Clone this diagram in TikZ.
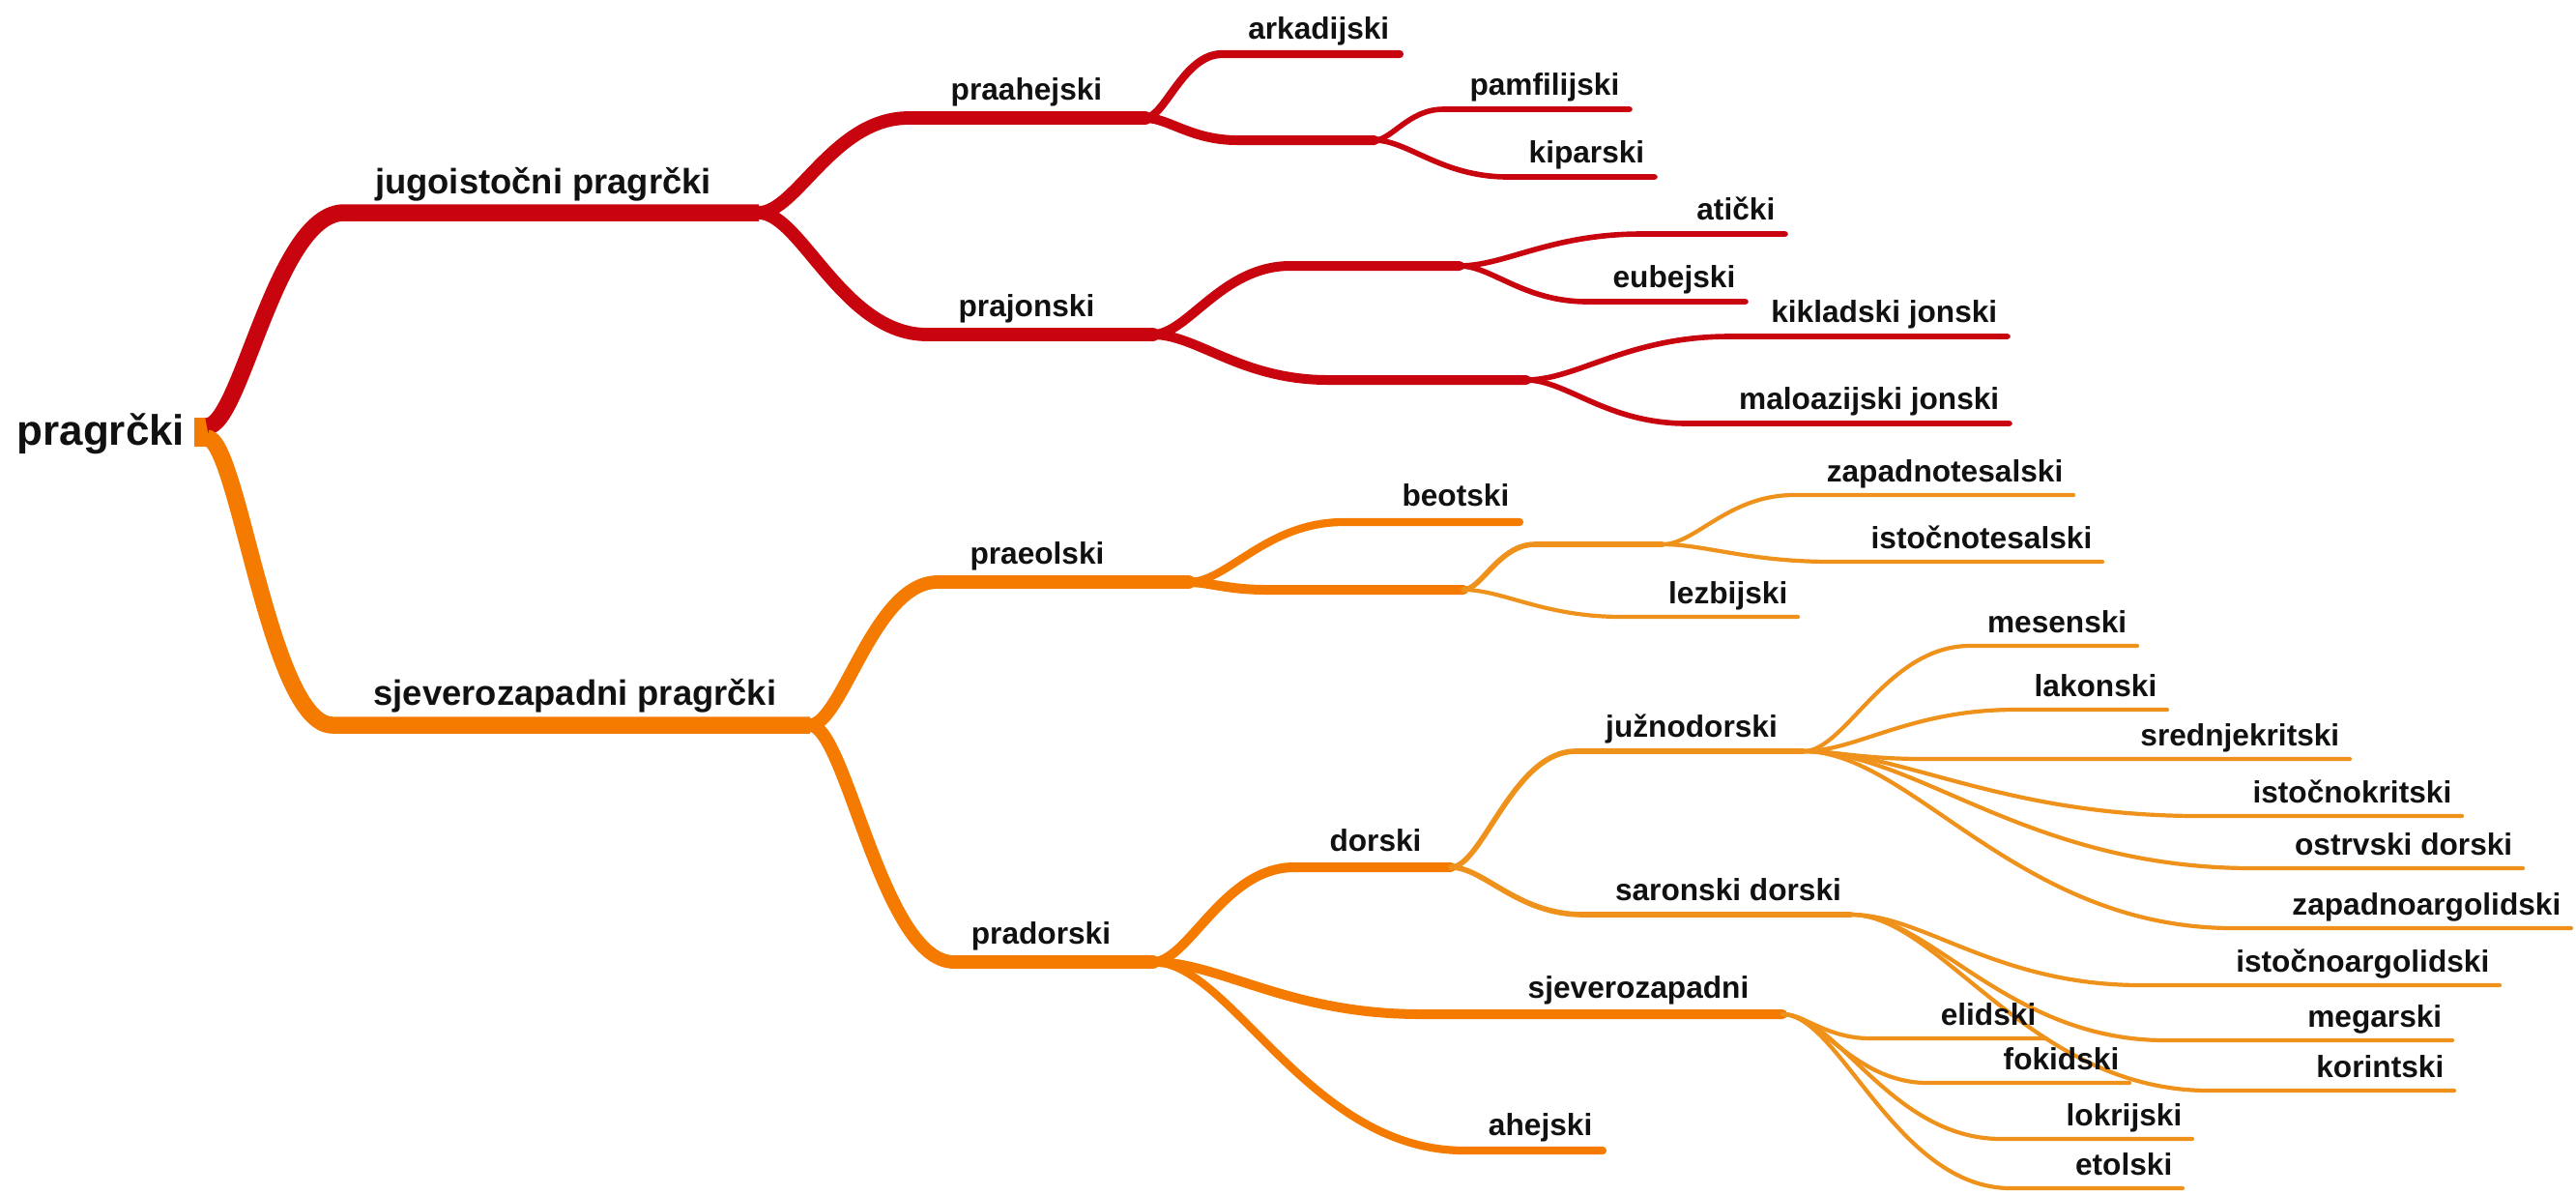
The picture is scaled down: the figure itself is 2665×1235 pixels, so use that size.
\documentclass[tikz,border=0pt]{standalone}
\usepackage{fontspec}
\setmainfont{Liberation Sans}
\definecolor{ink}{HTML}{111111}
\definecolor{southred}{HTML}{C8050E}
\definecolor{northorange}{HTML}{F47B00}
\definecolor{northgold}{HTML}{EE921C}
\usetikzlibrary{calc}
\tikzset{
  every picture/.style={line cap=round, line join=round},
  lbl/.style={font=\bfseries\fontsize{9}{11}\selectfont, text=ink, inner sep=0pt},
  leaf/.style={lbl, anchor=base east},
  topic/.style={lbl, anchor=base},
  topicI/.style={topic, font=\bfseries\fontsize{10.35}{12.5}\selectfont},
  central/.style={lbl, anchor=base west, font=\bfseries\fontsize{12.5}{15}\selectfont},
  brR/.style={draw=southred},
  brO/.style={draw=northorange},
  brG/.style={draw=northgold},
  w1/.style={line width=1.75mm},
  w2/.style={line width=1.38mm},
  w3/.style={line width=1.0mm},
  w3l/.style={line width=0.82mm},
  w4/.style={line width=0.56mm},
  w5/.style={line width=0.42mm},
  % horizontal S-curve from a fork to the start of a child's underline
  branch/.style={to path={let \p1=(\tikztostart), \p2=(\tikztotarget) in
    .. controls ({0.75*\x1+0.25*\x2},\y1) and ({0.5*\x1+0.5*\x2},\y2) .. (\tikztotarget)}}
}
\begin{document}
\begin{tikzpicture}[x=0.01cm, y=-0.01cm]
  \useasboundingbox (0,0) rectangle (2665,1235);

  % Central topic
  \node[central] (root) at (17,460) {pragrčki};
  \coordinate (root-r) at (214,441);
  \coordinate (root-o) at (214,453);
  \fill[northorange] (201,432) rectangle (222,462);

  % ---------------- South-east branch (red) ----------------
  \coordinate (jug-s) at (356,220);   \coordinate (jug-e) at (785,220);
  \coordinate (prah-s) at (940,122);  \coordinate (prah-e) at (1185,122);
  \coordinate (ark-s) at (1264,56);   \coordinate (ark-e) at (1448,56);
  \coordinate (pk-s) at (1280,145);   \coordinate (pk-e) at (1422,145);
  \coordinate (pam-s) at (1493,113);  \coordinate (pam-e) at (1686,113);
  \coordinate (kip-s) at (1560,183);  \coordinate (kip-e) at (1712,183);
  \coordinate (praj-s) at (959,346);  \coordinate (praj-e) at (1193,346);
  \coordinate (ae-s) at (1335,275);   \coordinate (ae-e) at (1510,275);
  \coordinate (ati-s) at (1698,242);  \coordinate (ati-e) at (1847,242);
  \coordinate (eub-s) at (1642,312);  \coordinate (eub-e) at (1806,312);
  \coordinate (km-s) at (1374,393);   \coordinate (km-e) at (1579,393);
  \coordinate (kik-s) at (1789,348);  \coordinate (kik-e) at (2077,348);
  \coordinate (mal-s) at (1745,438);  \coordinate (mal-e) at (2079,438);

  \draw[brR, w1, line cap=butt] (root-r) to[branch] (jug-s) -- (jug-e);
  \draw[brR, w2] (jug-e) to[branch] (prah-s) -- (prah-e);
  \draw[brR, w3l] (prah-e) to[branch] (ark-s) -- (ark-e);
  \draw[brR, w3] (prah-e) to[branch] (pk-s) -- (pk-e);
  \draw[brR, w4] (pk-e) to[branch] (pam-s) -- (pam-e);
  \draw[brR, w4] (pk-e) to[branch] (kip-s) -- (kip-e);
  \draw[brR, w2] (jug-e) to[branch] (praj-s) -- (praj-e);
  \draw[brR, w3] (praj-e) to[branch] (ae-s) -- (ae-e);
  \draw[brR, w4] (ae-e) to[branch] (ati-s) -- (ati-e);
  \draw[brR, w4] (ae-e) to[branch] (eub-s) -- (eub-e);
  \draw[brR, w3] (praj-e) to[branch] (km-s) -- (km-e);
  \draw[brR, w4] (km-e) to[branch] (kik-s) -- (kik-e);
  \draw[brR, w4] (km-e) to[branch] (mal-s) -- (mal-e);

  \node[topicI] (jug) at (562,200) {jugoistočni pragrčki};
  \node[topic] (prah) at (1062,103) {praahejski};
  \node[leaf] (ark) at (1438,40) {arkadijski};
  \node[leaf] (pam) at (1676,98) {pamfilijski};
  \node[leaf] (kip) at (1702,168) {kiparski};
  \node[topic] (praj) at (1062,327) {prajonski};
  \node[leaf] (ati) at (1837,227) {atički};
  \node[leaf] (eub) at (1796,297) {eubejski};
  \node[leaf] (kik) at (2067,333) {kikladski jonski};
  \node[leaf] (mal) at (2069,423) {maloazijski jonski};

  % ---------------- North-west branch (orange) ----------------
  \coordinate (sjp-s) at (344,750);   \coordinate (sjp-e) at (838,750);
  \coordinate (praeo-s) at (970,602); \coordinate (praeo-e) at (1230,602);
  \coordinate (beo-s) at (1390,540);  \coordinate (beo-e) at (1572,540);
  \coordinate (ael-s) at (1310,610);  \coordinate (ael-e) at (1514,610);
  \coordinate (tes-s) at (1588,563);  \coordinate (tes-e) at (1720,563);
  \coordinate (zts-s) at (1856,512);  \coordinate (zts-e) at (2145,512);
  \coordinate (its-s) at (1895,581);  \coordinate (its-e) at (2175,581);
  \coordinate (lez-s) at (1678,638);  \coordinate (lez-e) at (1860,638);
  \coordinate (prad-s) at (987,995);  \coordinate (prad-e) at (1193,995);
  \coordinate (dor-s) at (1339,897);  \coordinate (dor-e) at (1501,897);
  \coordinate (jd-s) at (1630,777);   \coordinate (jd-e) at (1866,777);
  \coordinate (mes-s) at (2038,668);  \coordinate (mes-e) at (2211,668);
  \coordinate (lak-s) at (2085,734);  \coordinate (lak-e) at (2242,734);
  \coordinate (srk-s) at (1990,785);  \coordinate (srk-e) at (2431,785);
  \coordinate (iok-s) at (2275,844);  \coordinate (iok-e) at (2547,844);
  \coordinate (osd-s) at (2330,898);  \coordinate (osd-e) at (2610,898);
  \coordinate (zag-s) at (2310,960);  \coordinate (zag-e) at (2660,960);
  \coordinate (sd-s) at (1638,946);   \coordinate (sd-e) at (1915,946);
  \coordinate (ioa-s) at (2215,1019); \coordinate (ioa-e) at (2586,1019);
  \coordinate (meg-s) at (2240,1076); \coordinate (meg-e) at (2537,1076);
  \coordinate (kor-s) at (2285,1128); \coordinate (kor-e) at (2539,1128);
  \coordinate (sz-s) at (1470,1049);  \coordinate (sz-e) at (1844,1049);
  \coordinate (eli-s) at (1935,1074); \coordinate (eli-e) at (2117,1074);
  \coordinate (fok-s) at (1994,1120); \coordinate (fok-e) at (2203,1120);
  \coordinate (lok-s) at (2070,1178); \coordinate (lok-e) at (2268,1178);
  \coordinate (eto-s) at (2080,1229); \coordinate (eto-e) at (2258,1229);
  \coordinate (ahe-s) at (1515,1190); \coordinate (ahe-e) at (1658,1190);

  \draw[brO, w1, line cap=butt] (root-o) to[branch] (sjp-s) -- (sjp-e);
  \draw[brO, w2] (sjp-e) to[branch] (praeo-s) -- (praeo-e);
  \draw[brO, w3l] (praeo-e) to[branch] (beo-s) -- (beo-e);
  \draw[brO, w3] (praeo-e) to[branch] (ael-s) -- (ael-e);
  \draw[brG, w4] (ael-e) to[branch] (tes-s) -- (tes-e);
  \draw[brG, w5] (tes-e) to[branch] (zts-s) -- (zts-e);
  \draw[brG, w5] (tes-e) to[branch] (its-s) -- (its-e);
  \draw[brG, w5] (ael-e) to[branch] (lez-s) -- (lez-e);
  \draw[brO, w2] (sjp-e) to[branch] (prad-s) -- (prad-e);
  \draw[brO, w3] (prad-e) to[branch] (dor-s) -- (dor-e);
  \draw[brG, w4] (dor-e) to[branch] (jd-s) -- (jd-e);
  \foreach \k in {mes,lak,srk,iok,osd,zag}
    \draw[brG, w5] (jd-e) to[branch] (\k-s) -- (\k-e);
  \draw[brG, w4] (dor-e) to[branch] (sd-s) -- (sd-e);
  \foreach \k in {ioa,meg,kor}
    \draw[brG, w5] (sd-e) to[branch] (\k-s) -- (\k-e);
  \draw[brO, w3] (prad-e) to[branch] (sz-s) -- (sz-e);
  \foreach \k in {eli,fok,lok,eto}
    \draw[brG, w5] (sz-e) to[branch] (\k-s) -- (\k-e);
  \draw[brO, w3l] (prad-e) to[branch] (ahe-s) -- (ahe-e);

  \node[topicI] (sjp) at (595,729) {sjeverozapadni pragrčki};
  \node[topic] (praeo) at (1073,583) {praeolski};
  \node[leaf] (beo) at (1562,523) {beotski};
  \node[leaf] (zts) at (2135,498) {zapadnotesalski};
  \node[leaf] (its) at (2165,567) {istočnotesalski};
  \node[leaf] (lez) at (1850,624) {lezbijski};
  \node[topic] (prad) at (1077,976) {pradorski};
  \node[topic] (dor) at (1423,880) {dorski};
  \node[topic] (jd) at (1750,762) {južnodorski};
  \node[leaf] (mes) at (2201,654) {mesenski};
  \node[leaf] (lak) at (2232,720) {lakonski};
  \node[leaf] (srk) at (2421,771) {srednjekritski};
  \node[leaf] (iok) at (2537,830) {istočnokritski};
  \node[leaf] (osd) at (2600,884) {ostrvski dorski};
  \node[leaf] (zag) at (2650,946) {zapadnoargolidski};
  \node[topic] (sd) at (1788,931) {saronski dorski};
  \node[leaf] (ioa) at (2576,1005) {istočnoargolidski};
  \node[leaf] (meg) at (2527,1062) {megarski};
  \node[leaf] (kor) at (2529,1114) {korintski};
  \node[topic] (sz) at (1695,1032) {sjeverozapadni};
  \node[leaf] (eli) at (2107,1060) {elidski};
  \node[leaf] (fok) at (2193,1106) {fokidski};
  \node[leaf] (lok) at (2258,1164) {lokrijski};
  \node[leaf] (eto) at (2248,1215) {etolski};
  \node[leaf] (ahe) at (1648,1174) {ahejski};
\end{tikzpicture}
\end{document}
